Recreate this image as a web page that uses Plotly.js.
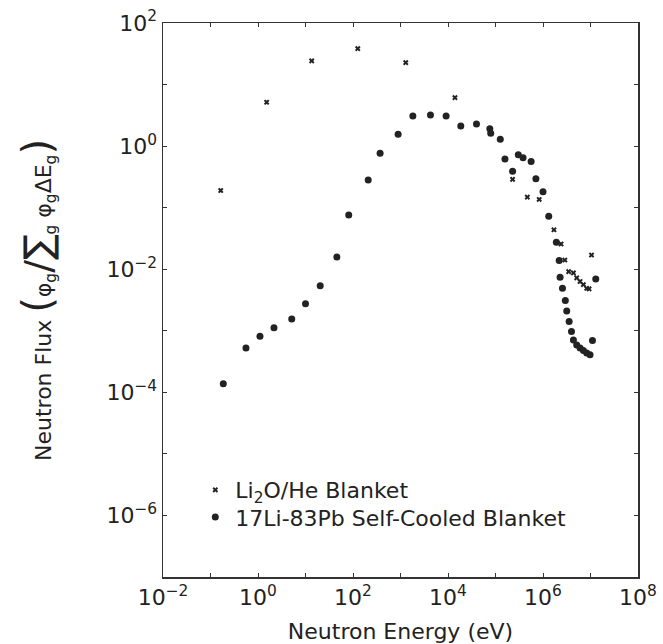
<!DOCTYPE html>
<html>
<head>
<meta charset="utf-8">
<script src="https://cdn.plot.ly/plotly-3.0.1.min.js"></script>
<style>html,body{margin:0;padding:0;background:#fff;}#chart{width:663px;height:644px;}</style>
</head>
<body>
<div id="chart"></div>
<script>
// Li2O/He Blanket (crosses)
const li2oEnergy = [0.164, 1.52, 13.5, 126, 1290, 14000, 229000, 468000, 832000,
  1.70e6, 2.40e6, 2.88e6, 3.47e6, 4.37e6, 5.13e6, 6.03e6, 7.08e6, 8.32e6, 9.33e6, 1.05e7];
const li2oFlux = [0.19, 5.16, 24.2, 38.3, 22.7, 6.12, 0.288, 0.148, 0.136,
  0.0437, 0.0257, 0.0141, 0.00912, 0.00871, 0.00724, 0.00631, 0.00562, 0.0049, 0.00479, 0.017];

// 17Li-83Pb Self-Cooled Blanket (dots)
const lipbEnergy = [0.186, 0.558, 1.10, 2.17, 5.13, 10.0, 20.4, 45.7, 81.3, 209, 372, 891,
  1820, 4270, 9120, 18600, 39800, 75900, 79400, 126000, 158000, 229000, 302000, 380000,
  562000, 708000, 1.0e6, 1.32e6, 1.91e6, 2.19e6, 2.29e6, 2.57e6, 2.95e6, 3.16e6, 3.55e6,
  3.98e6, 4.37e6, 5.13e6, 6.03e6, 7.08e6, 8.32e6, 9.77e6, 1.10e7, 1.29e7];
const lipbFlux = [1.38e-4, 5.25e-4, 8.13e-4, 1.12e-3, 1.55e-3, 2.75e-3, 5.37e-3, 0.0158, 0.0759,
  0.282, 0.767, 1.56, 3.09, 3.21, 3.09, 2.13, 2.29, 1.91, 1.62, 1.29, 0.617, 0.389, 0.724, 0.646,
  0.562, 0.295, 0.182, 0.0724, 0.0275, 0.0138, 0.00741, 0.0049, 0.00309, 0.00209, 0.00141,
  9.77e-4, 7.08e-4, 5.89e-4, 5.25e-4, 4.79e-4, 4.37e-4, 4.07e-4, 6.92e-4, 0.00692];

const xTickVals = [1e-2, 1e-1, 1e0, 1e1, 1e2, 1e3, 1e4, 1e5, 1e6, 1e7, 1e8];
const xTickText = ['10<sup>−2</sup>', '', '10<sup>0</sup>', '', '10<sup>2</sup>', '', '10<sup>4</sup>', '', '10<sup>6</sup>', '', '10<sup>8</sup>'];
const yTickVals = [1e-7, 1e-6, 1e-5, 1e-4, 1e-3, 1e-2, 1e-1, 1e0, 1e1, 1e2];
const yTickText = ['', '10<sup>−6</sup>', '', '10<sup>−4</sup>', '', '10<sup>−2</sup>', '', '10<sup>0</sup>', '', '10<sup>2</sup>'];

const ink = '#222';
const fam = '"DejaVu Sans", Verdana, sans-serif';
const traces = [
  {x: li2oEnergy, y: li2oFlux, type: 'scatter', mode: 'markers',
   name: 'Li<sub>2</sub>O/He Blanket', legend: 'legend',
   marker: {symbol: 'x', size: 5, color: ink}},
  {x: lipbEnergy, y: lipbFlux, type: 'scatter', mode: 'markers',
   name: '17Li-83Pb Self-Cooled Blanket', legend: 'legend2',
   marker: {symbol: 'circle', size: 7, color: ink}}
];

const axisCommon = {
  type: 'log', showgrid: false, zeroline: false,
  showline: true, linecolor: '#333', linewidth: 1.5, mirror: 'ticks',
  ticks: 'inside', ticklen: 4, tickwidth: 1, tickcolor: '#333',
  tickmode: 'array', tickfont: {size: 22, color: ink}
};

const legendCommon = {x: 0.068, xanchor: 'left', yanchor: 'middle',
  bgcolor: 'rgba(0,0,0,0)', borderwidth: 0, font: {size: 22, color: ink}, itemwidth: 30};

const layout = {
  width: 663, height: 644,
  margin: {l: 163, r: 25, t: 23, b: 67},
  paper_bgcolor: '#fff', plot_bgcolor: '#fff',
  font: {family: fam, color: ink, size: 22},
  showlegend: true,
  legend: Object.assign({}, legendCommon, {y: 0.157}),
  legend2: Object.assign({}, legendCommon, {y: 0.108}),
  xaxis: Object.assign({}, axisCommon, {
    range: [-2, 8], tickvals: xTickVals, ticktext: xTickText,
    title: {text: 'Neutron Energy (eV)', font: {size: 22, color: ink}, standoff: 14}
  }),
  yaxis: Object.assign({}, axisCommon, {
    range: [-7, 2], tickvals: yTickVals, ticktext: yTickText,
    title: {text: 'Neutron Flux <span style="font-size:40px">(</span>φ<sub>g</sub><span style="font-size:38px">/</span><span style="font-size:38px">∑</span><sub>g</sub> φ<sub>g</sub>ΔE<sub>g</sub><span style="font-size:40px">)</span>',
            font: {size: 22, color: ink}, standoff: 48}
  })
};

Plotly.newPlot('chart', traces, layout, {displayModeBar: false, staticPlot: true});
</script>
</body>
</html>
